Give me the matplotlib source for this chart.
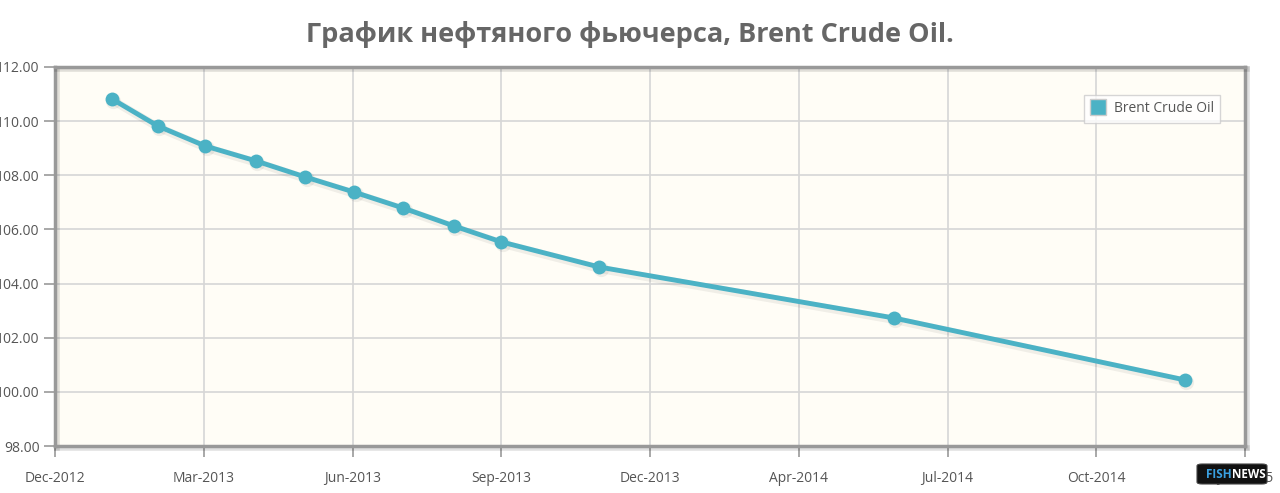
import numpy as np
import pandas as pd
import matplotlib
matplotlib.use("Agg")
import matplotlib.pyplot as plt
import matplotlib.patheffects as pe
from matplotlib.patches import FancyBboxPatch

# contract dates and prices
dates = pd.to_datetime([
    "2013-01-22", "2013-02-20", "2013-03-22", "2013-04-23", "2013-05-24",
    "2013-06-24", "2013-07-25", "2013-08-26", "2013-09-25", "2013-11-26",
    "2014-05-31", "2014-12-01",
])
prices = [110.82, 109.82, 109.08, 108.53, 107.94, 107.38, 106.79, 106.13,
          105.54, 104.61, 102.73, 100.44]

tick_dates = pd.date_range("2012-12-17", periods=9, freq="94D")
tick_labels = ["Dec-2012", "Mar-2013", "Jun-2013", "Sep-2013", "Dec-2013",
               "Apr-2014", "Jul-2014", "Oct-2014", "Jan-2015"]
y_ticks = np.arange(98, 112.1, 2)

line_color = "#4bb2c5"
text_color = "#555555"

plt.rcParams['font.family'] = ['Open Sans', 'DejaVu Sans']

fig = plt.figure(figsize=(12.8, 4.93), dpi=100)
ax = fig.add_axes([55 / 1280, 1 - 446 / 493, 1190 / 1280, 379 / 493])
ax.set_facecolor("#fffdf6")

# soft shadow under the series, then the series itself
ax.plot(dates, prices, color="#000000", alpha=0.06, lw=6, marker="o", ms=11,
        markeredgewidth=0, zorder=2,
        transform=ax.transData + matplotlib.transforms.ScaledTranslation(1.5 / 100, -2 / 100, fig.dpi_scale_trans))
ax.plot(dates, prices, color=line_color, lw=3.5, marker="o", ms=10,
        markeredgewidth=0, label="Brent Crude Oil", zorder=3)

ax.set_xlim(tick_dates[0], tick_dates[-1])
ax.set_ylim(98, 112)
ax.set_xticks(tick_dates)
ax.set_xticklabels(tick_labels)
ax.set_yticks(y_ticks)
ax.set_yticklabels([f"{v:.2f}" for v in y_ticks])
ax.tick_params(axis="both", colors="#999999", labelcolor=text_color,
               labelsize=10, length=8, width=1.2)
ax.tick_params(axis="x", pad=10)
ax.tick_params(axis="y", pad=3)
ax.grid(True, color="#d6d6d6", lw=1.2)
ax.set_axisbelow(True)
for s in ax.spines.values():
    s.set_color("#999999")
    s.set_linewidth(2.5)
    s.set_path_effects([pe.SimpleLineShadow(offset=(1.5, -1.5), alpha=0.12, linewidth=4), pe.Normal()])

leg = ax.legend(loc="upper right", bbox_to_anchor=(0.985, 0.945), fontsize=10,
                frameon=True, fancybox=False, handlelength=1.1, handleheight=1.1,
                handletextpad=0.6, borderpad=0.45, labelcolor=text_color)
leg.get_frame().set_edgecolor("#cccccc")
leg.get_frame().set_facecolor("white")
leg.get_frame().set_linewidth(1)
handle = leg.legend_handles[0]
handle.set_linestyle("None")
handle.set_marker("s")
handle.set_markersize(12)
handle.set_markeredgecolor("#cccccc")
handle.set_markeredgewidth(1)

fig.text(0.492, 0.93, "График нефтяного фьючерса, Brent Crude Oil.", ha="center", va="center",
         fontsize=19.5, fontweight="bold", color="#666666")

# watermark logo
logo = FancyBboxPatch((1197 / 1280, 1 - 484 / 493), 70 / 1280, 20 / 493,
                      boxstyle="round,pad=0,rounding_size=0.004", transform=fig.transFigure,
                      fc="#111111", ec="#444444", lw=0.8, zorder=10)
fig.add_artist(logo)
fig.text(1232 / 1280, 1 - 474 / 493, "FISH", ha="right", va="center", fontsize=8.5,
         fontweight="bold", color="#3aa0e0", zorder=11)
fig.text(1232 / 1280, 1 - 474 / 493, "NEWS", ha="left", va="center", fontsize=8.5,
         fontweight="bold", color="white", zorder=11)

fig.savefig("out.png", dpi=100, facecolor="white")
